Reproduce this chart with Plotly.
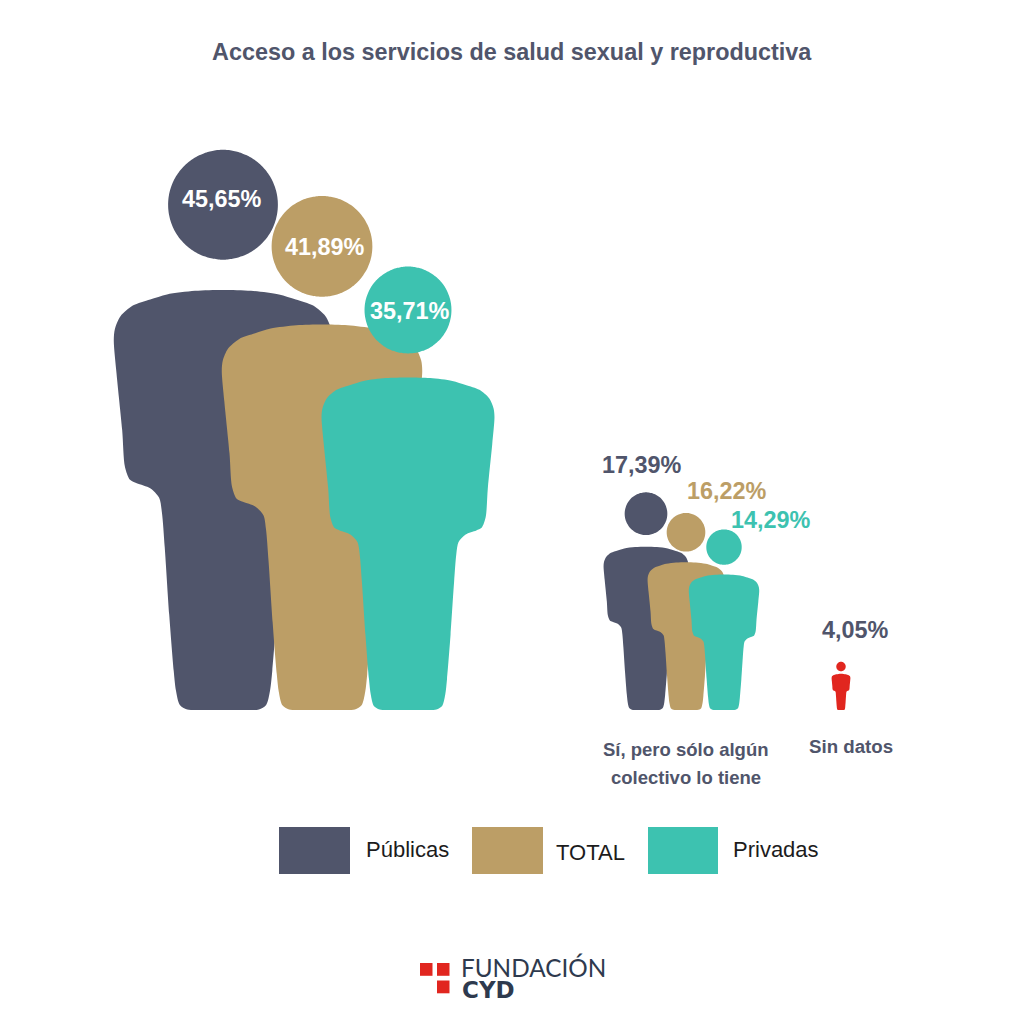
# Acceso a los servicios de salud sexual y reproductiva
import numpy as np
import plotly.graph_objects as go

# Values (percent)
categories = ["", "Sí, pero sólo algún", "colectivo lo tiene", "Sin datos"]
series_names = ["Públicas", "TOTAL", "Privadas"]
publicas = [45.65, 17.39]
total = [41.89, 16.22]
privadas = [35.71, 14.29]
sin_datos = [4.05]

navy = "#50556B"
tan = "#BC9E66"
teal = "#3DC2B0"
red = "#E1261F"

# the canvas is used in pixels, the feet of everybody stand on this line
ground = 710
px_per_pct = 12.27

# half a person, fractions of total height (x from middle, y from feet)
half_body = [
    (0.0, 0.75), (0.05, 0.7485), (0.1, 0.742), (0.13, 0.733), (0.161, 0.722), (0.183, 0.703),
    (0.193, 0.68), (0.195, 0.66), (0.190, 0.6), (0.180, 0.5), (0.175, 0.434), (0.166, 0.411),
    (0.154, 0.405), (0.130, 0.396), (0.114, 0.379), (0.109, 0.352), (0.104, 0.29), (0.096, 0.17),
    (0.088, 0.07), (0.084, 0.035), (0.077, 0.009), (0.064, 0.001), (0.03, 0.0), (0.0, 0.0),
]
head_r = 0.098
head_y = 0.902


def person(value, cx, stretch=1.0):
    h = value * px_per_pct * stretch
    left = [(cx - a * h, ground - b * h) for a, b in half_body]
    right = [(cx + a * h, ground - b * h) for a, b in half_body[::-1]]
    pts = left + right[1:]
    t = np.linspace(0, 2 * np.pi, 73)
    xs = [p[0] for p in pts] + [None] + list(cx + head_r * h * np.cos(t))
    ys = [p[1] for p in pts] + [None] + list(ground - head_y * h + head_r * h * np.sin(t))
    return xs, ys


def pct(v):
    return f"{v:.2f}%".replace(".", ",")


colors = [navy, tan, teal]
big_x = [223, 322, 408]
small_x = [646, 686, 724]
big_stretch = [1.0, 1.0, 1.012]
small_stretch = [1.02, 0.99, 1.03]

fig = go.Figure()
for i, vals in enumerate([publicas, total, privadas]):
    xs, ys = person(vals[0], big_x[i], big_stretch[i])
    fig.add_trace(go.Scatter(x=xs, y=ys, mode="lines", fill="toself", fillcolor=colors[i],
                             line=dict(color=colors[i], width=0, shape="spline", smoothing=0.8), hoverinfo="skip"))
for i, vals in enumerate([publicas, total, privadas]):
    xs, ys = person(vals[1], small_x[i], small_stretch[i])
    fig.add_trace(go.Scatter(x=xs, y=ys, mode="lines", fill="toself", fillcolor=colors[i],
                             line=dict(color=colors[i], width=0, shape="spline", smoothing=0.8), hoverinfo="skip"))
xs, ys = person(sin_datos[0], 841, 0.97)
fig.add_trace(go.Scatter(x=xs, y=ys, mode="lines", fill="toself", fillcolor=red,
                         line=dict(color=red, width=0, shape="spline", smoothing=0.8), hoverinfo="skip"))


def label(x, y, text, size=23.4, color=navy, bold=True, family="Liberation Sans", **kw):
    fig.add_annotation(x=x, y=y, text=f"<b>{text}</b>" if bold else text, showarrow=False,
                       font=dict(size=size, color=color, family=family), **kw)


label(512, 52, "Acceso a los servicios de salud sexual y reproductiva", size=23.4)

big_lab = [(222, 199), (325, 247), (410, 311)]
small_lab = [(642, 465), (727, 491), (771, 520)]
for i, vals in enumerate([publicas, total, privadas]):
    label(big_lab[i][0], big_lab[i][1], pct(vals[0]), color="white")
    label(small_lab[i][0], small_lab[i][1], pct(vals[1]), color=colors[i])
label(855, 630, pct(sin_datos[0]))

label(686, 749, categories[1], size=18.5)
label(686, 777, categories[2], size=18.5)
label(851, 746, categories[3], size=18.7)

# hand made legend, like the original
legend_x = [(279, 350), (472, 543), (648, 718)]
legend_lab = [(407, 849), (590, 852), (776, 849)]
for i, name in enumerate(series_names):
    fig.add_shape(type="rect", x0=legend_x[i][0], x1=legend_x[i][1], y0=827, y1=874,
                  fillcolor=colors[i], line_width=0)
    label(legend_lab[i][0], legend_lab[i][1], name, size=22, color="#1c1c1c", bold=False)

# logo
for x0, y0 in [(420, 963), (437, 963), (437, 980.5)]:
    fig.add_shape(type="rect", x0=x0, x1=x0 + 12.5, y0=y0, y1=y0 + 12.8, fillcolor=red, line_width=0)
label(533, 967, "FUNDACIÓN", size=24.3, color="#2E3A4E", bold=False, family="Lato")
label(488, 990, "CYD", size=23, color="#2E3A4E", family="DejaVu Sans")

fig.update_xaxes(range=[0, 1024], visible=False, fixedrange=True)
fig.update_yaxes(range=[1024, 0], visible=False, fixedrange=True)
fig.update_layout(width=1024, height=1024, margin=dict(l=0, r=0, t=0, b=0), showlegend=False,
                  paper_bgcolor="white", plot_bgcolor="white")
fig.write_html("out.html", config=dict(displayModeBar=False), post_script="document.body.style.margin='0';")
